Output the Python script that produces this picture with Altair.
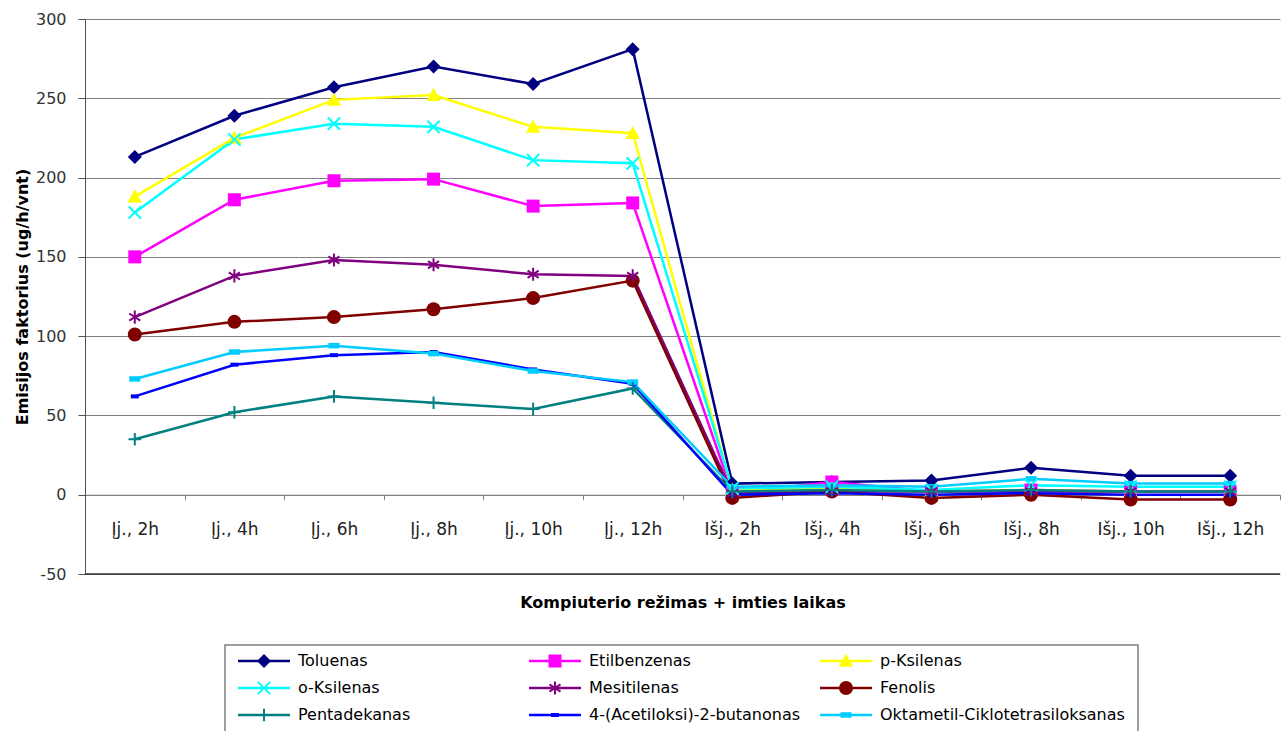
import altair as alt
import pandas as pd

# Sampling points: computer mode (Įj. = on, Išj. = off) + sampling time
categories = ["Įj., 2h", "Įj., 4h", "Įj., 6h", "Įj., 8h", "Įj., 10h", "Įj., 12h",
              "Išj., 2h", "Išj., 4h", "Išj., 6h", "Išj., 8h", "Išj., 10h", "Išj., 12h"]

series_names = ["Toluenas", "Etilbenzenas", "p-Ksilenas",
                "o-Ksilenas", "Mesitilenas", "Fenolis",
                "Pentadekanas", "4-(Acetiloksi)-2-butanonas", "Oktametil-Ciklotetrasiloksanas"]

# Emission factors, ug/h/unit
toluenas = [213, 239, 257, 270, 259, 281, 7, 8, 9, 17, 12, 12]
etilbenzenas = [150, 186, 198, 199, 182, 184, 1, 8, 2, 3, 2, 2]
p_ksilenas = [188, 225, 249, 252, 232, 228, 3, 4, 2, 3, 2, 2]
o_ksilenas = [178, 224, 234, 232, 211, 209, 4, 5, 3, 6, 5, 5]
mesitilenas = [112, 138, 148, 145, 139, 138, 1, 2, 2, 2, 2, 2]
fenolis = [101, 109, 112, 117, 124, 135, -2, 2, -2, 0, -3, -3]
pentadekanas = [35, 52, 62, 58, 54, 67, 2, 3, 2, 3, 2, 2]
acetiloksi_butanonas = [62, 82, 88, 90, 79, 70, 0, 1, 0, 1, 0, 0]
oktametil_ciklotetrasiloksanas = [73, 90, 94, 89, 78, 71, 5, 6, 5, 10, 7, 7]

series_values = [toluenas, etilbenzenas, p_ksilenas, o_ksilenas, mesitilenas,
                 fenolis, pentadekanas, acetiloksi_butanonas, oktametil_ciklotetrasiloksanas]

colors = ["#000080", "#FF00FF", "#FFFF00", "#00FFFF", "#800080",
          "#800000", "#008080", "#0000FF", "#00CCFF"]

# Marker paths in the [-1, 1] unit box
shapes = [
    "M0,-1L1,0L0,1L-1,0Z",                                   # diamond
    "M-1,-1H1V1H-1Z",                                        # square
    "M0,-1L1,0.8L-1,0.8Z",                                   # triangle
    "M-1,-1L1,1M-1,1L1,-1",                                  # x
    "M0,-1V1M-0.85,-0.55L0.85,0.55M-0.85,0.55L0.85,-0.55",   # asterisk
    "circle",
    "M-1,0H1M0,-1V1",                                        # plus
    "M-1,-0.5H1V0.5H-1Z",                                    # small bar
    "M-1,-0.5H1V0.5H-1Z",                                    # small bar
]
marker_sizes = [196, 169, 210, 150, 170, 196, 160, 64, 121]
stroked_series = ["o-Ksilenas", "Mesitilenas", "Pentadekanas"]
filled_series = [s for s in series_names if s not in stroked_series]

rows = []
for name, vals in zip(series_names, series_values):
    for i, (cat, v) in enumerate(zip(categories, vals)):
        rows.append({"series": name, "cat": cat, "idx": i, "value": v})
df = pd.DataFrame(rows)

legend_df = pd.DataFrame({
    "series": series_names,
    "col": [i % 3 for i in range(len(series_names))],
    "row": [i // 3 for i in range(len(series_names))],
})

W, H = 1195, 555
Y_MIN, Y_MAX = -50, 300
zero_offset = -H * (0 - Y_MIN) / (Y_MAX - Y_MIN)
FONT = "DejaVu Sans"

color = alt.Color("series:N", scale=alt.Scale(domain=series_names, range=colors), legend=None)
shape = alt.Shape("series:N", scale=alt.Scale(domain=series_names, range=shapes), legend=None)
size = alt.Size("series:N", scale=alt.Scale(type="ordinal", domain=series_names, range=marker_sizes), legend=None)

x_enc = alt.X(
    "cat:N", sort=categories,
    scale=alt.Scale(type="band", paddingInner=0, paddingOuter=0),
    axis=alt.Axis(
        title="Kompiuterio režimas + imties laikas",
        offset=zero_offset, tickBand="extent", labelAngle=0,
        domainColor="#808080", tickColor="#808080", tickSize=5,
        labelFont=FONT, labelFontSize=17, labelColor="#222222", labelPadding=22,
        titleFont=FONT, titleFontSize=16, titleFontWeight="bold",
        titleColor="#000000", titlePadding=57, grid=False,
    ),
)
y_enc = alt.Y(
    "value:Q",
    scale=alt.Scale(domain=[Y_MIN, Y_MAX], nice=False, zero=False),
    axis=alt.Axis(
        values=list(range(Y_MIN, Y_MAX + 1, 50)), grid=True, gridColor="#808080", gridWidth=1,
        domainColor="#505050", tickColor="#505050", tickSize=7,
        labelExpr="'' + datum.value",
        labelFont=FONT, labelFontSize=16, labelColor="#333333", labelPadding=12,
        title="Emisijos faktorius (ug/h/vnt)", titleFont=FONT, titleFontSize=16,
        titleFontWeight="bold", titleColor="#000000", titlePadding=5,
    ),
)

base = alt.Chart(df)
lines = base.mark_line(strokeWidth=2.5).encode(x=x_enc, y=y_enc, color=color, order="idx:Q")
pts_filled = base.transform_filter(
    alt.FieldOneOfPredicate(field="series", oneOf=filled_series)
).mark_point(filled=True, opacity=1).encode(x=x_enc, y=y_enc, color=color, shape=shape, size=size)
pts_stroked = base.transform_filter(
    alt.FieldOneOfPredicate(field="series", oneOf=stroked_series)
).mark_point(filled=False, strokeWidth=2, opacity=1).encode(x=x_enc, y=y_enc, color=color, shape=shape, size=size)
bottom_line = alt.Chart(pd.DataFrame({"v": [Y_MIN]})).mark_rule(color="#303030", strokeWidth=1.5).encode(
    y=alt.Y("v:Q"), x=alt.value(0), x2=alt.value(W)
)

plot = alt.layer(lines, pts_filled, pts_stroked, bottom_line)

# Legend block below the plot
lx = alt.X("col:Q", scale=alt.Scale(domain=[0, 3], range=[153, 153 + 3 * 291]), axis=None)
ly = alt.Y("row:Q", scale=alt.Scale(domain=[0, 3], range=[642, 642 + 3 * 27]), axis=None)
leg = alt.Chart(legend_df)
box = alt.Chart(pd.DataFrame({"k": [0]})).mark_rect(fill="white", stroke="#808080", strokeWidth=1.5).encode(
    x=alt.value(140), x2=alt.value(1053), y=alt.value(626), y2=alt.value(760)
)
leg_lines = leg.mark_rule(strokeWidth=2.5, x2Offset=52).encode(x=lx, x2=alt.X2("col:Q"), y=ly, color=color)
leg_pf = leg.transform_filter(
    alt.FieldOneOfPredicate(field="series", oneOf=filled_series)
).mark_point(filled=True, opacity=1, xOffset=26).encode(x=lx, y=ly, color=color, shape=shape, size=size)
leg_ps = leg.transform_filter(
    alt.FieldOneOfPredicate(field="series", oneOf=stroked_series)
).mark_point(filled=False, strokeWidth=2, opacity=1, xOffset=26).encode(x=lx, y=ly, color=color, shape=shape, size=size)
leg_text = leg.mark_text(align="left", baseline="middle", dx=60, font=FONT, fontSize=16,
                         color="#000000").encode(x=lx, y=ly, text="series:N")

legend = alt.layer(box, leg_lines, leg_pf, leg_ps, leg_text)

chart = alt.layer(plot, legend).resolve_scale(x="independent", y="independent").properties(
    width=W, height=H,
    autosize=alt.AutoSizeParams(type="none"),
    padding={"left": 85, "top": 19, "right": 7, "bottom": 157},
    background="white",
).configure_view(stroke=None)

chart.save("out.html", embed_options={"renderer": "svg", "actions": False})
